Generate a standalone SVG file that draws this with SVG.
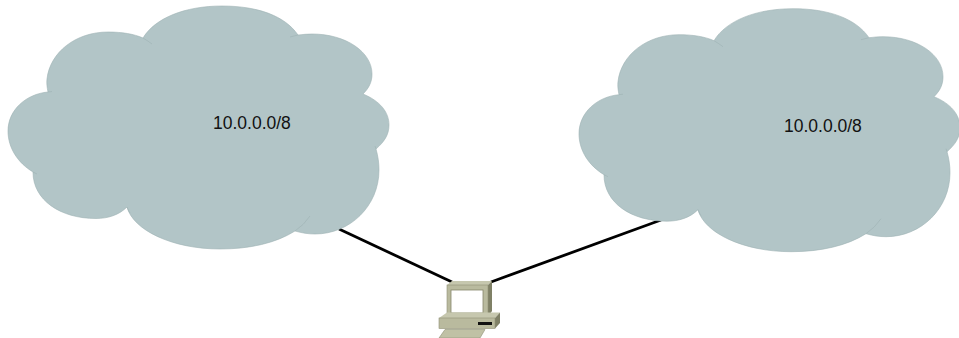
<svg xmlns="http://www.w3.org/2000/svg" width="959" height="338" viewBox="0 0 959 338">
<style>
.cloud{fill:#b2c5c7;stroke:#9db1b3;stroke-width:.6}
.tick{fill:none;stroke:#9db1b3;stroke-width:.6}
.lbl{font-family:"Liberation Sans",Arial,sans-serif;font-size:17.5px;fill:#111}
.link{stroke:#000;stroke-width:2.8;fill:none}
</style>
<defs>
<g id="cloudShape">
<path class="cloud" d="M143 38C155 18 185 6 222 6C258 6 285 16 298 35C303 34.500 307 34 312 34C346 34 372 52 372 74C372 82 369 88 363 94C380 101 389 112 389 125C389 135 384 142 376 149C378 156 379 163 379 170C379 206 350 234 315 234C308 234 302 233 295 231C276 243 250 249 220 249C172 249 133 230 127 207C119 215 108 218.500 96 218.500C60 218.500 33 200 33 172C18 163 8 148 8 131C8 110 26 94 48 92C47 87 46.500 83 47 79C50 52 76 32 108 32C122 32 134 34 143 38Z"/>
<path class="tick" d="M143 38Q148 41 152 44M290 37Q294 36 298 35M376 149L375 146M127 207Q128 210 130 213M295 231Q304 225 310 216M33 172L37 174M48 92L52 91.500"/>
</g>
</defs>
<g id="connectors">
<line class="link" x1="339" y1="229" x2="452" y2="282"/>
<line class="link" x1="661" y1="220" x2="491" y2="282"/>
</g>
<g id="cloud-left">
<use href="#cloudShape"/>
<text class="lbl" x="213" y="129">10.0.0.0/8</text>
</g>
<g id="cloud-right">
<use href="#cloudShape" x="571" y="2.7"/>
<text class="lbl" x="784" y="131.500">10.0.0.0/8</text>
</g>
<g id="computer">
<path d="M447 285L452 281H492L488 285Z" fill="#c6c7ae"/>
<path d="M488 285L492 281V311L488 317Z" fill="#7f8066"/>
<rect x="447" y="285" width="41" height="32" fill="#b9ba9e" stroke="#8f9076" stroke-width=".6"/>
<rect x="451" y="290" width="32" height="23" fill="#fff" stroke="#85866a" stroke-width=".8"/>
<path d="M439 318L447 312.500H500L495 318Z" fill="#c6c7ae"/>
<path d="M495 318L500 312.500V323L495 328.500Z" fill="#7f8066"/>
<rect x="439" y="318" width="56" height="10.500" fill="#b9ba9e" stroke="#8f9076" stroke-width=".6"/>
<rect x="478" y="322" width="14" height="3" fill="#111"/>
<path d="M445 329.500H485L480 338H439Z" fill="#c0c1a5" stroke="#8f9076" stroke-width=".6"/>
</g>
</svg>
